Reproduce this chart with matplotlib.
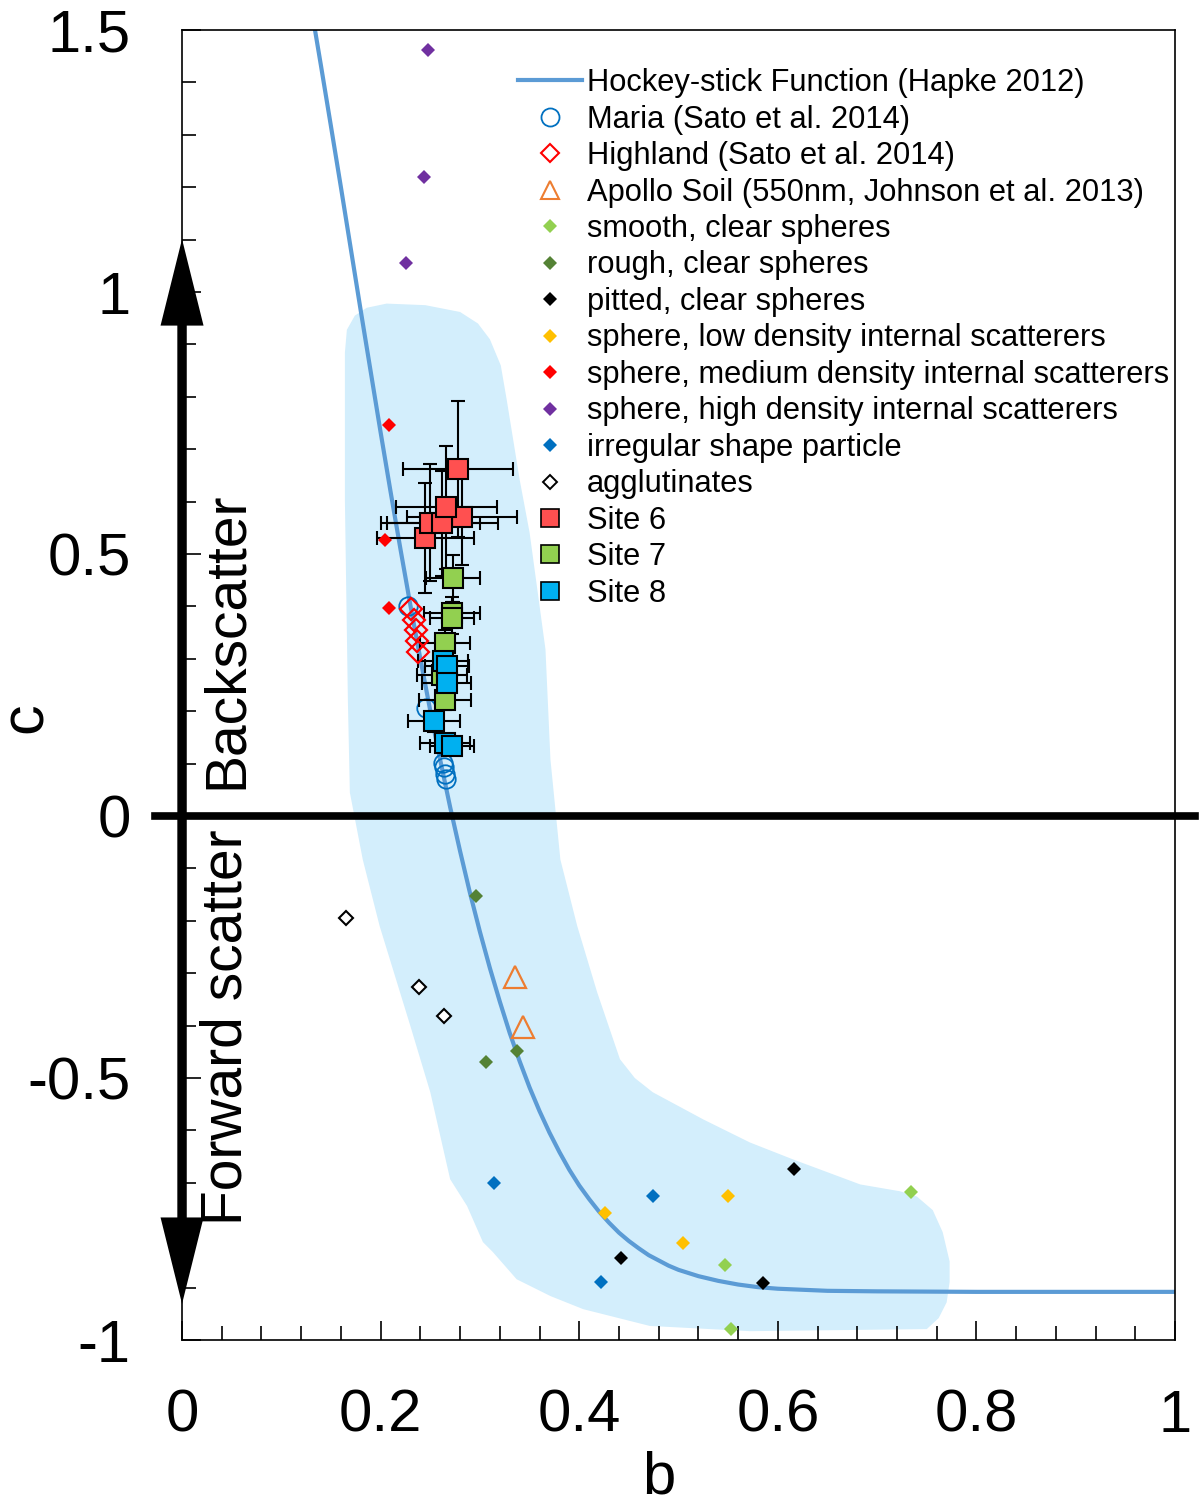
import matplotlib
matplotlib.use("Agg")
import matplotlib.pyplot as plt
from matplotlib.lines import Line2D
from matplotlib.patches import FancyArrow
from matplotlib.ticker import MultipleLocator, FuncFormatter

plt.rcParams['font.family'] = ['Liberation Sans', 'DejaVu Sans']
plt.rcParams['axes.unicode_minus'] = False

# hockey-stick function (Hapke 2012)
hockey_b = [0.13, 0.14, 0.15, 0.16, 0.17, 0.18, 0.19, 0.20, 0.21, 0.22, 0.23, 0.24, 0.25, 0.26,
            0.27, 0.28, 0.29, 0.30, 0.31, 0.32, 0.33, 0.34, 0.35, 0.36, 0.37, 0.38, 0.39, 0.40,
            0.41, 0.42, 0.43, 0.44, 0.45, 0.46, 0.47, 0.48, 0.49, 0.50, 0.52, 0.54, 0.56, 0.58,
            0.60, 0.65, 0.70, 0.80, 1.00]
hockey_c = [1.544, 1.431, 1.316, 1.200, 1.082, 0.964, 0.848, 0.732, 0.619, 0.509, 0.402, 0.300,
            0.201, 0.107, 0.017, -0.067, -0.147, -0.221, -0.290, -0.354, -0.414, -0.468, -0.518,
            -0.563, -0.604, -0.641, -0.675, -0.705, -0.731, -0.755, -0.776, -0.795, -0.811,
            -0.825, -0.838, -0.848, -0.858, -0.866, -0.878, -0.887, -0.894, -0.899, -0.902,
            -0.906, -0.907, -0.908, -0.908]

# outline of the light blue band
region_b = [0.164, 0.166, 0.174, 0.186, 0.206, 0.245, 0.280, 0.298, 0.310, 0.321, 0.327, 0.340,
            0.350, 0.366, 0.371, 0.381, 0.398, 0.418, 0.441, 0.456, 0.474, 0.525, 0.572, 0.615,
            0.683, 0.723, 0.740, 0.756, 0.766, 0.773, 0.773, 0.770, 0.762, 0.750, 0.572, 0.471,
            0.404, 0.371, 0.337, 0.313, 0.303, 0.287, 0.270, 0.250, 0.230, 0.199, 0.182, 0.169,
            0.167, 0.164]
region_c = [0.884, 0.928, 0.955, 0.970, 0.978, 0.975, 0.962, 0.940, 0.910, 0.860, 0.794, 0.642,
            0.541, 0.318, 0.108, -0.083, -0.210, -0.336, -0.464, -0.500, -0.527, -0.579, -0.623,
            -0.655, -0.703, -0.716, -0.726, -0.752, -0.794, -0.850, -0.889, -0.928, -0.958,
            -0.979, -0.983, -0.973, -0.941, -0.916, -0.884, -0.832, -0.813, -0.744, -0.693,
            -0.527, -0.401, -0.210, -0.083, 0.045, 0.222, 0.604]

maria_b = [0.228, 0.246, 0.263, 0.264, 0.265, 0.266]
maria_c = [0.400, 0.207, 0.102, 0.093, 0.081, 0.070]

highland_b = [0.231, 0.234, 0.236, 0.237, 0.238]
highland_c = [0.396, 0.375, 0.356, 0.335, 0.314]

apollo_b = [0.335, 0.343]
apollo_c = [-0.307, -0.403]

smooth_b = [0.734, 0.547, 0.553]
smooth_c = [-0.717, -0.857, -0.978]
rough_b = [0.296, 0.337, 0.306]
rough_c = [-0.153, -0.449, -0.470]
pitted_b = [0.616, 0.442, 0.585]
pitted_c = [-0.673, -0.844, -0.891]
low_b = [0.426, 0.550, 0.504]
low_c = [-0.757, -0.726, -0.814]
medium_b = [0.208, 0.204, 0.208]
medium_c = [0.747, 0.527, 0.397]
high_b = [0.248, 0.244, 0.226]
high_c = [1.462, 1.220, 1.056]
irregular_b = [0.314, 0.474, 0.422]
irregular_c = [-0.701, -0.725, -0.889]
aggl_b = [0.165, 0.239, 0.264]
aggl_c = [-0.194, -0.326, -0.382]

site6_b = [0.278, 0.282, 0.245, 0.250, 0.262, 0.266]
site6_c = [0.662, 0.570, 0.531, 0.560, 0.559, 0.589]
site6_berr = [0.055, 0.055, 0.049, 0.050, 0.056, 0.051]
site6_cerr = [0.130, 0.090, 0.105, 0.112, 0.100, 0.118]

site7_b = [0.273, 0.272, 0.272, 0.265, 0.262, 0.265]
site7_c = [0.454, 0.388, 0.378, 0.330, 0.270, 0.222]
site7_berr = [0.027, 0.028, 0.022, 0.025, 0.025, 0.026]
site7_cerr = [0.045, 0.030, 0.030, 0.025, 0.020, 0.020]

site8_b = [0.263, 0.267, 0.2665, 0.254, 0.265, 0.272]
site8_c = [0.295, 0.286, 0.254, 0.181, 0.140, 0.133]
site8_berr = [0.025, 0.022, 0.025, 0.026, 0.025, 0.022]
site8_cerr = [0.030, 0.020, 0.020, 0.020, 0.015, 0.015]

hockey_color = '#5B9BD5'

fig = plt.figure(figsize=(12, 15.03), dpi=100)
ax = fig.add_axes([0.1517, 0.1084, 0.8275, 0.8716])

ax.fill(region_b, region_c, color='#D3EEFC', lw=0, zorder=1)
ax.plot(hockey_b, hockey_c, color=hockey_color, lw=3, zorder=2)

ax.plot(maria_b, maria_c, 'o', ms=13.3, mfc='none', mec='#0070C0', mew=1.3, zorder=3)

# sites with error bars
sites = [(site6_b, site6_c, site6_berr, site6_cerr, '#FF5050'),
         (site7_b, site7_c, site7_berr, site7_cerr, '#92D050'),
         (site8_b, site8_c, site8_berr, site8_cerr, '#00B0F0')]
for sb, sc, sbe, sce, col in sites:
    ax.errorbar(sb, sc, xerr=sbe, yerr=sce, fmt='none', ecolor='k', elinewidth=1.5,
                capsize=5, capthick=1.5, zorder=3.5)
for sb, sc, sbe, sce, col in sites:
    ax.plot(sb, sc, 's', ms=15, mfc=col, mec='k', mew=1.5, zorder=4)

ax.plot(highland_b, highland_c, 'D', ms=11, mfc='none', mec='#FF0000', mew=1.6, zorder=5)
ax.plot(apollo_b, apollo_c, '^', ms=16.5, mfc='none', mec='#ED7D31', mew=1.6, zorder=5)

small = [(smooth_b, smooth_c, '#92D050'), (rough_b, rough_c, '#548235'),
         (pitted_b, pitted_c, 'black'), (low_b, low_c, '#FFC000'),
         (medium_b, medium_c, '#FF0000'), (high_b, high_c, '#7030A0'),
         (irregular_b, irregular_c, '#0070C0')]
for sb, sc, col in small:
    ax.plot(sb, sc, 'D', ms=7, color=col, mew=0, zorder=5)
ax.plot(aggl_b, aggl_c, 'D', ms=7.5, mfc='white', mec='black', mew=1.5, zorder=5)

# zero line and backscatter / forward scatter arrows
ax.axhline(0, xmin=-0.027, xmax=1.02, color='k', lw=5.5, clip_on=False, zorder=6)
for tip in [1.101, -0.931]:
    ax.add_patch(FancyArrow(0, 0, 0, tip, width=0.0095, head_width=0.0433, head_length=0.165,
                            length_includes_head=True, color='k', lw=0, clip_on=False, zorder=7))
ax.text(0.060, 0.335, 'Backscatter', rotation=90, rotation_mode='anchor', ha='center',
        va='baseline', fontsize=41, zorder=8)
ax.text(0.060, -0.402, 'Forward scatter', rotation=90, rotation_mode='anchor', ha='center',
        va='baseline', fontsize=41, zorder=8)

ax.set_xlim(0, 1)
ax.set_ylim(-1, 1.5)
ax.xaxis.set_major_locator(MultipleLocator(0.2))
ax.xaxis.set_minor_locator(MultipleLocator(0.04))
ax.yaxis.set_major_locator(MultipleLocator(0.5))
ax.yaxis.set_minor_locator(MultipleLocator(0.1))
fmt = FuncFormatter(lambda v, p: '%g' % round(v, 2))
ax.xaxis.set_major_formatter(fmt)
ax.yaxis.set_major_formatter(fmt)
ax.tick_params(which='both', direction='in', top=False, right=False, width=1.2, labelsize=43)
ax.tick_params(which='major', length=13.5)
ax.tick_params(which='minor', length=10)
ax.tick_params(axis='x', pad=35)
ax.tick_params(axis='y', pad=37)
for s in ax.spines.values():
    s.set_linewidth(1.2)

ax.set_xlabel('b', fontsize=43)
ax.set_ylabel('c', fontsize=44)
ax.xaxis.set_label_coords(0.4804, -0.084)
ax.yaxis.set_label_coords(-0.128, 0.4748)

handles = [
    Line2D([], [], color=hockey_color, lw=3),
    Line2D([], [], ls='none', marker='o', ms=13, mfc='none', mec='#0070C0', mew=1.3),
    Line2D([], [], ls='none', marker='D', ms=9.5, mfc='none', mec='#FF0000', mew=1.5),
    Line2D([], [], ls='none', marker='^', ms=13.5, mfc='none', mec='#ED7D31', mew=1.5),
]
for sb, sc, col in small:
    handles.append(Line2D([], [], ls='none', marker='D', ms=7, color=col, mew=0))
handles.append(Line2D([], [], ls='none', marker='D', ms=7, mfc='white', mec='black', mew=1.4))
for sb, sc, sbe, sce, col in sites:
    handles.append(Line2D([], [], ls='none', marker='s', ms=12.5, mfc=col, mec='k', mew=1.2))
labels = ['Hockey-stick Function (Hapke 2012)', 'Maria (Sato et al. 2014)',
          'Highland (Sato et al. 2014)', 'Apollo Soil (550nm, Johnson et al. 2013)',
          'smooth, clear spheres', 'rough, clear spheres', 'pitted, clear spheres',
          'sphere, low density internal scatterers', 'sphere, medium density internal scatterers',
          'sphere, high density internal scatterers', 'irregular shape particle', 'agglutinates',
          'Site 6', 'Site 7', 'Site 8']
leg = ax.legend(handles, labels, loc='upper left', bbox_to_anchor=(0.4317, 0.9547),
                bbox_transform=fig.transFigure, frameon=False, fontsize=22.2, borderpad=0,
                borderaxespad=0, handlelength=2.07, handletextpad=0.16, labelspacing=0.21)
leg.set_zorder(9)

fig.savefig('out.png', dpi=100)
